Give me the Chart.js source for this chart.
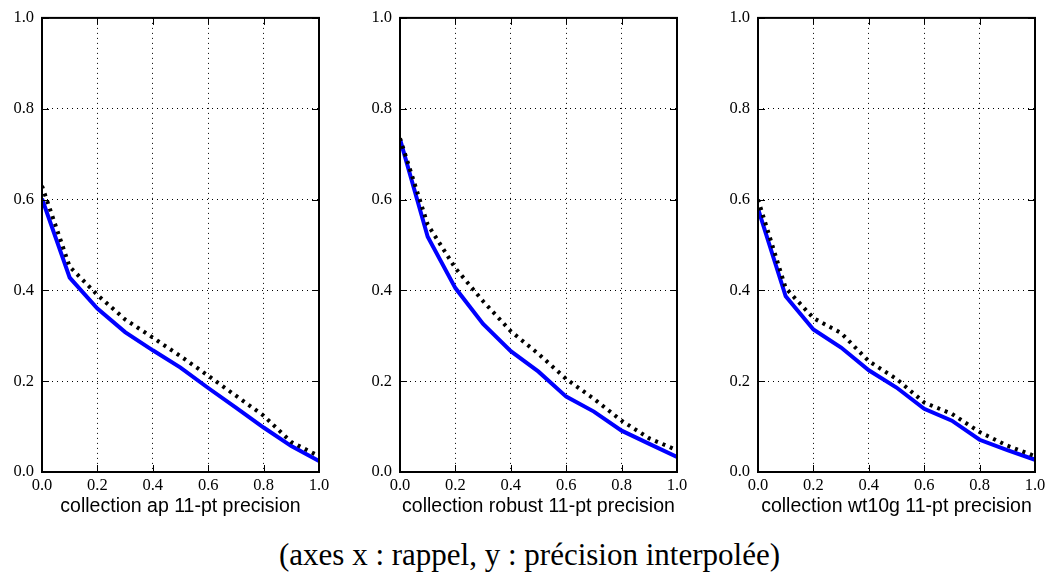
<!DOCTYPE html>
<html lang="fr">
<head>
    <meta charset="UTF-8">
    <title>Précision interpolée 11 points</title>
    <script src="https://cdn.jsdelivr.net/npm/chart.js"></script>
    <style>
        body { margin: 0; background: #fff; }
        #figure { position: relative; width: 1052px; height: 576px; overflow: hidden; }
        .panel { position: absolute; top: 0; width: 340px; height: 518px; }
        .caption {
            position: absolute; left: 279px; top: 539px;
            font-family: 'Liberation Serif', serif; font-size: 31px;
            line-height: 31px; white-space: nowrap; color: #000;
        }
    </style>
</head>
<body>
<div id="figure">
    <div class="panel" style="left:0px"><canvas id="chartAp"></canvas></div>
    <div class="panel" style="left:358px"><canvas id="chartRobust"></canvas></div>
    <div class="panel" style="left:716px"><canvas id="chartWt10g"></canvas></div>
    <div class="caption">(axes x : rappel, y : précision interpolée)</div>
</div>
<script>
    // recall levels of the 11-pt curves
    const recallLevels = [0.0, 0.1, 0.2, 0.3, 0.4, 0.5, 0.6, 0.7, 0.8, 0.9, 1.0];
    const axisTicks = [0.0, 0.2, 0.4, 0.6, 0.8, 1.0];

    // collection ap
    const apSolid  = [0.602, 0.428, 0.360, 0.308, 0.268, 0.230, 0.185, 0.142, 0.098, 0.057, 0.024];
    const apDotted = [0.630, 0.452, 0.390, 0.336, 0.296, 0.255, 0.212, 0.168, 0.124, 0.066, 0.035];

    // collection robust
    const robustSolid  = [0.733, 0.518, 0.405, 0.326, 0.266, 0.221, 0.166, 0.133, 0.091, 0.062, 0.033];
    const robustDotted = [0.735, 0.545, 0.449, 0.376, 0.310, 0.260, 0.205, 0.161, 0.113, 0.074, 0.048];

    // collection wt10g
    const wtSolid  = [0.580, 0.387, 0.314, 0.274, 0.224, 0.186, 0.139, 0.113, 0.071, 0.048, 0.027];
    const wtDotted = [0.600, 0.405, 0.339, 0.306, 0.244, 0.205, 0.153, 0.128, 0.088, 0.058, 0.035];

    // tick labels use the default font, titles override it
    Chart.defaults.font.family = "'Liberation Serif', 'Times New Roman', serif";
    Chart.defaults.font.size = 16.5;
    Chart.defaults.color = '#000';
    const titleFont = { family: "'Liberation Sans', Arial, sans-serif", size: 19.5 };

    // frame around the plot area plus inward tick marks on all four sides
    const framePlugin = {
        id: 'frame',
        afterDatasetsDraw(chart) {
            const { ctx, chartArea: a, scales: { x, y } } = chart;
            ctx.save();
            ctx.strokeStyle = '#000';
            ctx.lineWidth = 1;
            ctx.beginPath();
            axisTicks.forEach(v => {
                const px = Math.round(x.getPixelForValue(v)) + 0.5;
                ctx.moveTo(px, a.bottom); ctx.lineTo(px, a.bottom - 7);
                ctx.moveTo(px, a.top); ctx.lineTo(px, a.top + 7);
                const py = Math.round(y.getPixelForValue(v)) + 0.5;
                ctx.moveTo(a.left, py); ctx.lineTo(a.left + 7, py);
                ctx.moveTo(a.right, py); ctx.lineTo(a.right - 7, py);
            });
            ctx.stroke();
            ctx.lineWidth = 2;
            ctx.strokeRect(a.left, a.top, a.right - a.left, a.bottom - a.top);
            ctx.restore();
        }
    };

    function toPoints(values) {
        return recallLevels.map((r, i) => ({ x: r, y: values[i] }));
    }

    function makePanel(canvasId, title, solid, dotted) {
        new Chart(document.getElementById(canvasId), {
            type: 'line',
            data: {
                datasets: [
                    {
                        data: toPoints(dotted),
                        borderColor: '#000',
                        borderWidth: 4,
                        borderDash: [3, 5],
                        borderCapStyle: 'butt',
                        pointRadius: 0,
                        tension: 0
                    },
                    {
                        data: toPoints(solid),
                        borderColor: '#0000ff',
                        borderWidth: 4,
                        pointRadius: 0,
                        tension: 0
                    }
                ]
            },
            options: {
                responsive: true,
                maintainAspectRatio: false,
                animation: false,
                layout: { padding: { top: 14, right: 21, left: 0, bottom: 0 } },
                plugins: { legend: { display: false }, tooltip: { enabled: false } },
                scales: {
                    x: {
                        type: 'linear', min: 0, max: 1,
                        afterFit: s => { s.height = 46; },
                        border: { display: false, dash: [1, 4] },
                        grid: { color: '#000', lineWidth: 1, drawTicks: false },
                        ticks: {
                            stepSize: 0.2, color: '#000', padding: 4,
                            maxRotation: 0, autoSkip: false,
                            callback: v => v.toFixed(1)
                        },
                        title: {
                            display: true, text: title, color: '#000',
                            font: titleFont, padding: 0
                        }
                    },
                    y: {
                        type: 'linear', min: 0, max: 1,
                        afterFit: s => { s.width = 42; },
                        border: { display: false, dash: [1, 4] },
                        grid: { color: '#000', lineWidth: 1, drawTicks: false },
                        ticks: {
                            stepSize: 0.2, color: '#000', padding: 8,
                            callback: v => v.toFixed(1)
                        }
                    }
                }
            },
            plugins: [framePlugin]
        });
    }

    makePanel('chartAp', 'collection ap 11-pt precision', apSolid, apDotted);
    makePanel('chartRobust', 'collection robust 11-pt precision', robustSolid, robustDotted);
    makePanel('chartWt10g', 'collection wt10g 11-pt precision', wtSolid, wtDotted);
</script>
</body>
</html>
